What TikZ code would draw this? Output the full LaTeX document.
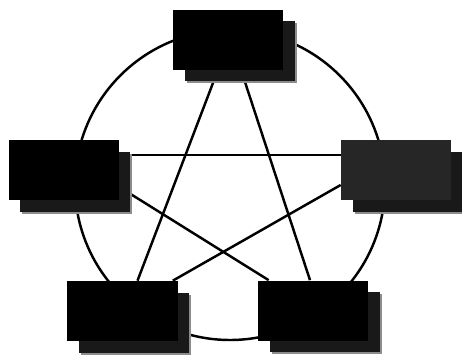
\documentclass[tikz,border=0pt]{standalone}
\usetikzlibrary{shadows,backgrounds}
\begin{document}
\begin{tikzpicture}[
	panel/.style={rectangle, fill=black, minimum width=2.2cm, minimum height=1.2cm, inner sep=0pt,
		general shadow={shadow xshift=0.27cm, shadow yshift=-0.27cm, fill=black!45, rounded corners=8pt},
		general shadow={shadow xshift=0.23cm, shadow yshift=-0.23cm, fill=black!90, rounded corners=7pt}},
	starline/.style={black, line width=1.4pt}
]
\useasboundingbox (-4.6,-3.42) rectangle (4.64,3.7);
\node[panel] (top) at (-0.04,2.91) {};
\node[panel] (left) at (-3.32,0.3) {};
\node[panel, fill=black!85] (right) at (3.32,0.3) {};
\node[panel] (bl) at (-2.15,-2.52) {};
\node[panel] (br) at (1.66,-2.51) {};
% circle and star go behind the panels
\begin{pgfonlayer}{background}
\draw[line width=1.4pt] (0,0) circle [radius = 3.1cm];
\draw[starline] ([xshift=-0.2cm]top.south) -- ([xshift=0.3cm]bl.north);
\draw[starline] ([xshift=0.26cm]top.south) -- ([xshift=-0.06cm]br.north);
\draw[starline] ([yshift=0.3cm]left.east) -- ([yshift=0.3cm]right.west);
\draw[starline] ([yshift=-0.34cm]left.east) -- ([xshift=0.22cm]br.north west);
\draw[starline] ([yshift=-0.3cm]right.west) -- ([xshift=-0.1cm]bl.north east);
\end{pgfonlayer}
\end{tikzpicture}
\end{document}
